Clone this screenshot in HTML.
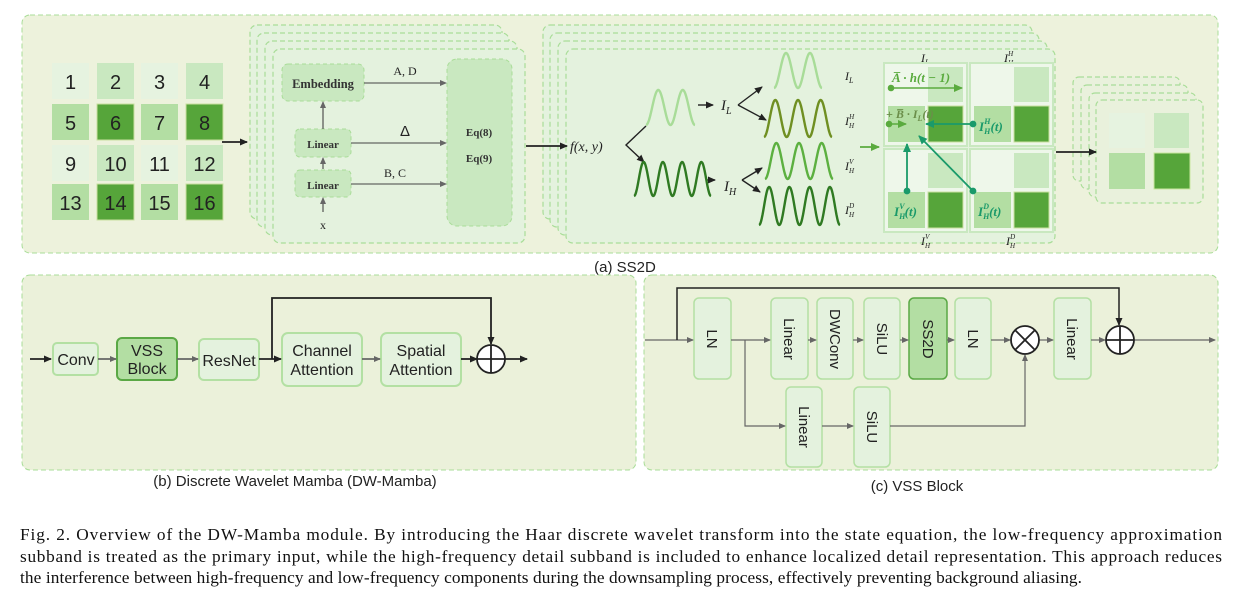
<!DOCTYPE html>
<html><head><meta charset="utf-8"><style>
html,body{margin:0;padding:0;background:#fff;}
svg{display:block;}
text{font-family:"Liberation Sans",sans-serif;}
.sf text, text.sf, .sf tspan{font-family:"Liberation Serif",serif;}
</style></head><body>
<svg id="s" width="1235" height="589" viewBox="0 0 1235 589" xmlns="http://www.w3.org/2000/svg">
<defs>
<marker id="ak" markerWidth="8" markerHeight="8" refX="7" refY="4" orient="auto" markerUnits="userSpaceOnUse"><path d="M0,0.5 L8,4 L0,7.5 z" fill="#222"/></marker>
<marker id="ag" markerWidth="7" markerHeight="7" refX="6" refY="3.5" orient="auto" markerUnits="userSpaceOnUse"><path d="M0,0.5 L7,3.5 L0,6.5 z" fill="#666"/></marker>
<marker id="agr" markerWidth="9" markerHeight="9" refX="8" refY="4.5" orient="auto" markerUnits="userSpaceOnUse"><path d="M0,0.5 L9,4.5 L0,8.5 z" fill="#1a9a6a"/></marker>
<marker id="agl" markerWidth="9" markerHeight="9" refX="8" refY="4.5" orient="auto" markerUnits="userSpaceOnUse"><path d="M0,0.5 L9,4.5 L0,8.5 z" fill="#5aab3e"/></marker>
</defs>
<!-- panel a -->
<rect x="22" y="15" width="1196" height="238" rx="8" fill="#edf2dc" stroke="#a9dd98" stroke-dasharray="5,3"/>
<g id="grid"></g>
<line x1="222" y1="142" x2="247" y2="142" stroke="#222" stroke-width="1.8" marker-end="url(#ak)"/>
<g fill="#e4f2de" stroke="#a9dd98" stroke-dasharray="5,3" stroke-width="1.2">
<rect x="250" y="25" width="252" height="194" rx="7"/>
<rect x="257" y="33" width="252" height="194" rx="7"/>
<rect x="265" y="41" width="252" height="194" rx="7"/>
<rect x="273" y="49" width="252" height="194" rx="7"/>
</g>
<g fill="#c9e8c0" stroke="#a9dd98" stroke-dasharray="4,3" stroke-width="1">
<rect x="282" y="64" width="82" height="37" rx="6"/>
<rect x="295" y="129" width="56" height="28" rx="5"/>
<rect x="295" y="170" width="56" height="27" rx="5"/>
<rect x="447" y="59" width="65" height="167" rx="10"/>
</g>
<g class="sf" font-weight="bold" fill="#333" font-size="12" text-anchor="middle">
<text x="323" y="88" font-size="12.5">Embedding</text>
<text x="323" y="148" font-size="11">Linear</text>
<text x="323" y="189" font-size="11">Linear</text>
<text x="479" y="136" font-size="11">Eq(8)</text>
<text x="479" y="162" font-size="11">Eq(9)</text>
</g>
<g class="sf" fill="#222" font-size="12" text-anchor="middle">
<text x="405" y="75">A, D</text>
<text x="395" y="177">B, C</text>
<text x="323" y="229">x</text>
</g>
<text x="405" y="136" font-size="15" text-anchor="middle" fill="#222">Δ</text>
<g stroke="#444" stroke-width="1.1" marker-end="url(#ag)">
<line x1="364" y1="83" x2="446" y2="83"/>
<line x1="351" y1="143" x2="446" y2="143"/>
<line x1="351" y1="184" x2="446" y2="184"/>
<line x1="323" y1="129" x2="323" y2="102"/>
<line x1="323" y1="169" x2="323" y2="158"/>
<line x1="323" y1="212" x2="323" y2="198"/>
</g>
<g fill="#e4f2de" stroke="#a9dd98" stroke-dasharray="5,3" stroke-width="1.2">
<rect x="543" y="25" width="489" height="194" rx="7"/>
<rect x="550" y="33" width="489" height="194" rx="7"/>
<rect x="558" y="41" width="489" height="194" rx="7"/>
<rect x="566" y="49" width="489" height="194" rx="7"/>
</g>
<line x1="526" y1="146" x2="567" y2="146" stroke="#222" stroke-width="1.8" marker-end="url(#ak)"/>
<text class="sf" x="570" y="151" font-size="14" font-style="italic" fill="#222">f(x, y)</text>
<g stroke="#222" stroke-width="1.4" fill="none" marker-end="url(#ak)">
<polyline points="646,126 626,145 644,162"/>
<line x1="698" y1="105" x2="713" y2="105"/>
<line x1="707" y1="180" x2="715" y2="180"/>
<line x1="738" y1="105" x2="762" y2="87"/>
<line x1="738" y1="105" x2="766" y2="120"/>
<line x1="742" y1="180" x2="762" y2="168"/>
<line x1="742" y1="180" x2="760" y2="192"/>
</g>
<g class="sf" font-style="italic" fill="#222">
<text x="721" y="110" font-size="15">I<tspan font-size="10" dy="4">L</tspan></text>
<text x="724" y="191" font-size="15">I<tspan font-size="10" dy="4">H</tspan></text>
<text x="845" y="80" font-size="12">I<tspan font-size="8" dy="3">L</tspan></text>
<text x="845" y="125" font-size="12">I<tspan font-size="7" dy="3">H</tspan><tspan font-size="7" dx="-5" dy="-9">H</tspan></text>
<text x="845" y="170" font-size="12">I<tspan font-size="7" dy="3">H</tspan><tspan font-size="7" dx="-5" dy="-9">V</tspan></text>
<text x="845" y="214" font-size="12">I<tspan font-size="7" dy="3">H</tspan><tspan font-size="7" dx="-5" dy="-9">D</tspan></text>
<text x="921" y="62" font-size="12">I<tspan font-size="8" dy="3">L</tspan></text>
<text x="1004" y="62" font-size="12">I<tspan font-size="7" dy="3">H</tspan><tspan font-size="7" dx="-5" dy="-9">H</tspan></text>
<text x="921" y="245" font-size="12">I<tspan font-size="7" dy="3">H</tspan><tspan font-size="7" dx="-5" dy="-9">V</tspan></text>
<text x="1006" y="245" font-size="12">I<tspan font-size="7" dy="3">H</tspan><tspan font-size="7" dx="-5" dy="-9">D</tspan></text>
</g>
<g id="waves" fill="none" stroke-width="2.4"></g>
<line x1="860" y1="147" x2="879" y2="147" stroke="#5aab3e" stroke-width="1.8" marker-end="url(#agl)"/>
<g id="quads"></g>
<g class="sf" font-style="italic" font-weight="bold" fill="#5aab3e" font-size="13">
<text x="892" y="82">A̅ · h(t − 1)</text>
<text x="886" y="118" fill="#6b8e4a" font-size="12">+ B̅ · I<tspan font-size="8" dy="3">L</tspan><tspan dy="-3">(t)</tspan></text>
</g>
<g class="sf" font-style="italic" font-weight="bold" fill="#1a9a6a" font-size="13">
<text x="979" y="131">I<tspan font-size="8" dy="3">H</tspan><tspan font-size="8" dx="-6" dy="-10">H</tspan><tspan dy="7">(t)</tspan></text>
<text x="894" y="216">I<tspan font-size="8" dy="3">H</tspan><tspan font-size="8" dx="-6" dy="-10">V</tspan><tspan dy="7">(t)</tspan></text>
<text x="978" y="216">I<tspan font-size="8" dy="3">H</tspan><tspan font-size="8" dx="-6" dy="-10">D</tspan><tspan dy="7">(t)</tspan></text>
</g>
<g stroke="#5aab3e" stroke-width="1.6" fill="#5aab3e">
<line x1="891" y1="88" x2="962" y2="88" marker-end="url(#agl)"/><circle cx="891" cy="88" r="2.5"/>
<line x1="889" y1="124" x2="906" y2="124" marker-end="url(#agl)"/><circle cx="889" cy="124" r="2.5"/>
</g>
<g stroke="#1a9a6a" stroke-width="1.8" fill="#1a9a6a">
<line x1="973" y1="124" x2="926" y2="124" marker-end="url(#agr)"/><circle cx="973" cy="124" r="2.5"/>
<line x1="907" y1="191" x2="907" y2="144" marker-end="url(#agr)"/><circle cx="907" cy="191" r="2.5"/>
<line x1="973" y1="191" x2="919" y2="136" marker-end="url(#agr)"/><circle cx="973" cy="191" r="2.5"/>
</g>
<g fill="#e9f1dc" stroke="#a9dd98" stroke-dasharray="5,3" stroke-width="1.2">
<rect x="1073" y="77" width="107" height="104" rx="6"/>
<rect x="1081" y="85" width="107" height="104" rx="6"/>
<rect x="1089" y="93" width="107" height="104" rx="6"/>
<rect x="1096" y="100" width="107" height="103" rx="6"/>
</g>
<line x1="1056" y1="152" x2="1096" y2="152" stroke="#222" stroke-width="1.8" marker-end="url(#ak)"/>
<rect x="1109" y="113" width="36" height="35" fill="#e6f3e0"/>
<rect x="1154" y="113" width="35" height="35" fill="#c9e8c0"/>
<rect x="1109" y="153" width="36" height="36" fill="#b3dea3"/>
<rect x="1154" y="153" width="36" height="36" fill="#56a53a" stroke="#c9e8a0"/>
<text x="625" y="272" font-size="15" text-anchor="middle" fill="#222">(a) SS2D</text>

<!-- panel b -->
<rect x="22" y="275" width="614" height="195" rx="8" fill="#ebf1da" stroke="#a9dd98" stroke-dasharray="5,3"/>
<g fill="#e4f2de" stroke="#b3e0a3" stroke-width="2">
<rect x="53" y="343" width="45" height="32" rx="4"/>
<rect x="199" y="339" width="60" height="41" rx="5"/>
<rect x="282" y="333" width="80" height="53" rx="6"/>
<rect x="381" y="333" width="80" height="53" rx="6"/>
</g>
<rect x="117" y="338" width="60" height="42" rx="5" fill="#b3dea3" stroke="#5aa845" stroke-width="2"/>
<g font-size="16" fill="#222" text-anchor="middle">
<text x="76" y="365">Conv</text>
<text x="147" y="356">VSS</text><text x="147" y="374">Block</text>
<text x="229" y="366">ResNet</text>
<text x="322" y="356">Channel</text><text x="322" y="375">Attention</text>
<text x="421" y="356">Spatial</text><text x="421" y="375">Attention</text>
</g>
<g stroke="#222" stroke-width="1.8" fill="none">
<line x1="30" y1="359" x2="51" y2="359" marker-end="url(#ak)"/>
<line x1="259" y1="359" x2="281" y2="359" marker-end="url(#ak)"/>
<polyline points="272,359 272,298 491,298 491,344" marker-end="url(#ak)"/>
<line x1="461" y1="359" x2="477" y2="359" marker-end="url(#ak)"/>
<line x1="505" y1="359" x2="527" y2="359" marker-end="url(#ak)"/>
<circle cx="491" cy="359" r="14" fill="#fff"/>
<line x1="477" y1="359" x2="505" y2="359"/><line x1="491" y1="345" x2="491" y2="373"/>
</g>
<g stroke="#666" stroke-width="1.8">
<line x1="98" y1="359" x2="116" y2="359" marker-end="url(#ag)"/>
<line x1="177" y1="359" x2="198" y2="359" marker-end="url(#ag)"/>
<line x1="362" y1="359" x2="380" y2="359" marker-end="url(#ag)"/>
</g>
<text x="295" y="486" font-size="15" text-anchor="middle" fill="#222">(b) Discrete Wavelet Mamba (DW-Mamba)</text>

<!-- panel c -->
<rect x="644" y="275" width="574" height="195" rx="8" fill="#ebf1da" stroke="#a9dd98" stroke-dasharray="5,3"/>
<g fill="#e4f2de" stroke="#b3e0a3" stroke-width="1.5">
<rect x="694" y="298" width="37" height="81" rx="5"/>
<rect x="771" y="298" width="37" height="81" rx="5"/>
<rect x="817" y="298" width="36" height="81" rx="5"/>
<rect x="864" y="298" width="36" height="81" rx="5"/>
<rect x="955" y="298" width="36" height="81" rx="5"/>
<rect x="1054" y="298" width="37" height="81" rx="5"/>
<rect x="786" y="387" width="36" height="80" rx="5"/>
<rect x="854" y="387" width="36" height="80" rx="5"/>
</g>
<rect x="909" y="298" width="38" height="81" rx="5" fill="#b3dea3" stroke="#5aa845" stroke-width="1.5"/>
<g font-size="15" fill="#222" text-anchor="middle">
<text transform="translate(712,339) rotate(90)" dy="5">LN</text>
<text transform="translate(789,339) rotate(90)" dy="5">Linear</text>
<text transform="translate(835,339) rotate(90)" dy="5">DWConv</text>
<text transform="translate(882,339) rotate(90)" dy="5">SiLU</text>
<text transform="translate(928,339) rotate(90)" dy="5">SS2D</text>
<text transform="translate(973,339) rotate(90)" dy="5">LN</text>
<text transform="translate(1072,339) rotate(90)" dy="5">Linear</text>
<text transform="translate(804,427) rotate(90)" dy="5">Linear</text>
<text transform="translate(872,427) rotate(90)" dy="5">SiLU</text>
</g>
<g stroke="#666" stroke-width="1.2" fill="none">
<line x1="645" y1="340" x2="693" y2="340" marker-end="url(#ag)"/>
<line x1="731" y1="340" x2="770" y2="340" marker-end="url(#ag)"/>
<line x1="808" y1="340" x2="816" y2="340" marker-end="url(#ag)"/>
<line x1="853" y1="340" x2="863" y2="340" marker-end="url(#ag)"/>
<line x1="900" y1="340" x2="908" y2="340" marker-end="url(#ag)"/>
<line x1="947" y1="340" x2="954" y2="340" marker-end="url(#ag)"/>
<line x1="991" y1="340" x2="1010" y2="340" marker-end="url(#ag)"/>
<line x1="1039" y1="340" x2="1053" y2="340" marker-end="url(#ag)"/>
<line x1="1091" y1="340" x2="1105" y2="340" marker-end="url(#ag)"/>
<line x1="1134" y1="340" x2="1215" y2="340" marker-end="url(#ag)"/>
<polyline points="745,340 745,426 785,426" marker-end="url(#ag)"/>
<line x1="822" y1="426" x2="853" y2="426" marker-end="url(#ag)"/>
<polyline points="890,426 1025,426 1025,355" marker-end="url(#ag)"/>
</g>
<polyline points="677,340 677,288 1119,288 1119,325" stroke="#222" stroke-width="1.5" fill="none" marker-end="url(#ak)"/>
<g stroke="#222" stroke-width="1.8">
<circle cx="1025" cy="340" r="14" fill="#fff"/>
<line x1="1015" y1="330" x2="1035" y2="350"/><line x1="1035" y1="330" x2="1015" y2="350"/>
<circle cx="1120" cy="340" r="14" fill="#fff"/>
<line x1="1106" y1="340" x2="1134" y2="340"/><line x1="1120" y1="326" x2="1120" y2="354"/>
</g>
<text x="917" y="491" font-size="15" text-anchor="middle" fill="#222">(c) VSS Block</text>

<!-- caption -->
<g class="sf" font-size="17.3" fill="#111">
<text x="20" y="540" textLength="1202" lengthAdjust="spacing">Fig. 2.  Overview of the DW-Mamba module. By introducing the Haar discrete wavelet transform into the state equation, the low-frequency approximation</text>
<text x="20" y="562" textLength="1202" lengthAdjust="spacing">subband is treated as the primary input, while the high-frequency detail subband is included to enhance localized detail representation. This approach reduces</text>
<text x="20" y="583" textLength="1062" lengthAdjust="spacing">the interference between high-frequency and low-frequency components during the downsampling process, effectively preventing background aliasing.</text>
</g>
</svg>
<script>
var NS="http://www.w3.org/2000/svg";
function el(p,t,a){var e=document.createElementNS(NS,t);for(var k in a)e.setAttribute(k,a[k]);p.appendChild(e);return e;}
var g=document.getElementById("grid");
var L="#e6f3e0",M="#c9e8c0",N="#b3dea3",D="#56a53a";
var cols=[52,97,141,186],rows=[63,104,145,184];
var colors=[[L,M,L,M],[N,D,N,D],[L,M,L,M],[N,D,N,D]];
for(var r=0;r<4;r++)for(var c=0;c<4;c++){
 el(g,"rect",{x:cols[c],y:rows[r],width:37,height:36,fill:colors[r][c],stroke:colors[r][c]==D?"#c9e0a0":"none"});
 var t=el(g,"text",{x:cols[c]+18.5,y:rows[r]+26,"font-size":20,"text-anchor":"middle",fill:"#222"});t.textContent=r*4+c+1;
}
var w=document.getElementById("waves");
function wave(x0,x1,y0,y1,n,col){
 var pts=[],mid=(y0+y1)/2,A=(y1-y0)/2,p=(x1-x0)/n;
 for(var x=x0;x<=x1+0.01;x+=0.5){pts.push(x.toFixed(1)+","+(mid+A*Math.cos(2*Math.PI*(x-x0)/p)).toFixed(1));}
 el(w,"polyline",{points:pts.join(" "),stroke:col});
}
wave(646,695,90,125,2,"#a8dc98");
wave(634,711,162,196,4,"#2f7a22");
wave(774,822,53,88,2,"#a8dc98");
wave(764,832,100,137,3,"#6f8f22");
wave(765,833,143,179,3,"#5cb040");
wave(759,840,187,225,4,"#2f7a22");
var q=document.getElementById("quads");
[[884,63],[970,63],[884,149],[970,149]].forEach(function(o){
 el(q,"rect",{x:o[0],y:o[1],width:83,height:83,fill:"#eef7ea",stroke:"#c9e8c0","stroke-width":2});
 el(q,"rect",{x:o[0]+44,y:o[1]+4,width:35,height:35,fill:M});
 el(q,"rect",{x:o[0]+4,y:o[1]+43,width:37,height:36,fill:N});
 el(q,"rect",{x:o[0]+44,y:o[1]+43,width:35,height:36,fill:D,stroke:"#c9e0a0"});
});
</script>
</body></html>
